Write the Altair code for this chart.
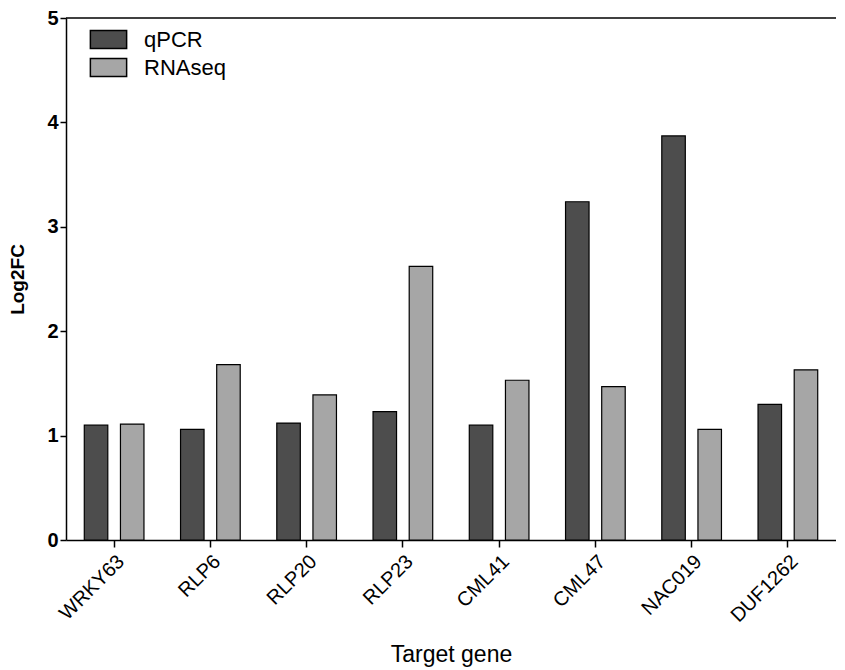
import altair as alt
import pandas as pd

genes = ["WRKY63", "RLP6", "RLP20", "RLP23", "CML41", "CML47", "NAC019", "DUF1262"]
qpcr = [1.10, 1.06, 1.12, 1.23, 1.10, 3.24, 3.87, 1.30]
rnaseq = [1.11, 1.68, 1.39, 2.62, 1.53, 1.47, 1.06, 1.63]
series = ["qPCR", "RNAseq"]
colors = ["#4d4d4d", "#a6a6a6"]
y_ticks = [0, 1, 2, 3, 4, 5]

rows = []
for g, q, r in zip(genes, qpcr, rnaseq):
    rows.append({"gene": g, "method": "qPCR", "value": q})
    rows.append({"gene": g, "method": "RNAseq", "value": r})
df = pd.DataFrame(rows)

FONT = "Liberation Sans"

bars = alt.Chart(df).mark_bar(stroke="black", strokeWidth=1.2).encode(
    x=alt.X("gene:N", sort=genes, title="Target gene",
            scale=alt.Scale(paddingInner=0.38, paddingOuter=0.19),
            axis=alt.Axis(labelAngle=-45, labelFont=FONT, labelFontSize=20,
                          labelColor="black",
                          tickSize=7, tickColor="black", tickWidth=1.5,
                          domainColor="black", domainWidth=1.5,
                          titleFont=FONT, titleFontSize=23, titleFontWeight="normal",
                          titleColor="black", titlePadding=18, labelPadding=4)),
    xOffset=alt.XOffset("method:N", sort=series,
                        scale=alt.Scale(paddingInner=0.35, paddingOuter=0)),
    y=alt.Y("value:Q", title="Log2FC",
            scale=alt.Scale(domain=[0, 5], nice=False),
            axis=alt.Axis(values=y_ticks, format="d", grid=False, labelFont=FONT,
                          labelFontSize=20, labelFontWeight="bold", labelColor="black",
                          tickSize=6, tickColor="black", tickWidth=1.5, labelPadding=2,
                          domainColor="black", domainWidth=1.5,
                          titleFont=FONT, titleFontSize=19, titleFontWeight="bold",
                          titleColor="black", titlePadding=19)),
    color=alt.Color("method:N", sort=series,
                    scale=alt.Scale(domain=series, range=colors),
                    legend=alt.Legend(title=None, orient="none", legendX=27, legendY=6,
                                      symbolType="M-1.25,-0.625H1.25V0.625H-1.25Z",
                                      symbolSize=841,
                                      symbolStrokeColor="black", symbolStrokeWidth=1.5,
                                      symbolOpacity=1,
                                      labelFont=FONT, labelFontSize=22, labelColor="black",
                                      labelOffset=20, rowPadding=0)),
)

top = alt.Chart(pd.DataFrame({"y": [5]})).mark_rule(color="black", strokeWidth=1.5).encode(
    y=alt.Y("y:Q")
)

chart = alt.layer(bars, top).properties(
    width=770, height=522,
    autosize=alt.AutoSizeParams(type="none"),
    padding={"left": 58, "top": 10, "right": 0, "bottom": 130},
).configure_view(stroke=None)

chart.save("out.html", embed_options={"renderer": "svg", "actions": False})
